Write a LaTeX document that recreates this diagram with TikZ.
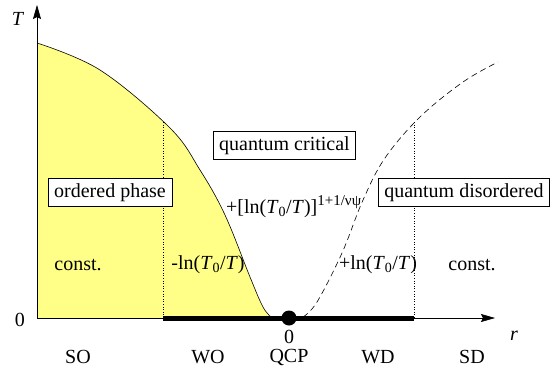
\documentclass[tikz,border=0pt]{standalone}
\usepackage{fontspec}
\setmainfont{Liberation Serif}
\usetikzlibrary{arrows.meta}
\definecolor{phaseyellow}{RGB}{255,255,136}
\tikzset{
  lbl/.style={font=\fontsize{20}{24}\selectfont, inner sep=0pt},
  boxlbl/.style={lbl, draw=black, line width=0.6pt, fill=white, inner xsep=6pt, inner ysep=5pt, text height=14pt, text depth=4.5pt},
  axis/.style={line width=0.6pt, -{Stealth[length=14pt,width=8pt,inset=2pt]}},
  boundary/.style={line width=0.6pt},
  crossover/.style={line width=0.6pt, dash pattern=on 6pt off 4pt},
  divider/.style={line width=0.6pt, dotted},
  thickline/.style={line width=5pt}
}
\newcommand{\lnTT}{ln(\textit{T}\textsubscript{0}/\textit{T})}
\begin{document}
\begin{tikzpicture}[x=1pt,y=-1pt]
\useasboundingbox (0,0) rectangle (552,368);
% coordinates
\coordinate (O) at (37,318);
\coordinate (Ttop) at (37,5);
\coordinate (rend) at (495,318);
\coordinate (L) at (163,318);
\coordinate (R) at (414,318);
\coordinate (Ltop) at (163,122);
\coordinate (Rtop) at (414,122);
\coordinate (qcp) at (289,318);
% ordered region
\fill[phaseyellow] (37,318) -- plot[smooth, tension=0.6] coordinates {(37,43) (100,70) (170,128) (200,170) (225,215) (250,277) (263,307) (272,318)} -- cycle;
\draw[boundary] plot[smooth, tension=0.6] coordinates {(37,43) (100,70) (170,128) (200,170) (225,215) (250,277) (263,307) (272,318)};
% crossover line
\draw[crossover] plot[smooth, tension=0.6] coordinates {(303,317) (317,302) (342,253) (363,200) (385,158) (420,117) (463,82) (498,62)};
% dividers
\draw[divider] (Ltop) -- (L);
\draw[divider] (Rtop) -- (R);
% axes
\draw[line width=0.6pt, dashed] (O) -- (L);
\draw[axis] (O) -- (rend);
\draw[axis] (O) -- (Ttop);
\draw[thickline] (L) -- (R);
\fill (qcp) circle (7.5pt);
% axis labels
\node[lbl] (Tlab) at (18,19) {\textit{T}};
\node[lbl] (rlab) at (514,336) {\textit{r}};
\node[lbl] (zeroT) at (20,320) {0};
\node[lbl] (zeror) at (289,337) {0};
% boxes
\node[boxlbl] (ordered) at (110,192.5) {ordered phase};
\node[boxlbl] (critical) at (284.5,145.5) {quantum critical};
\node[boxlbl] (disordered) at (464,192.5) {quantum disordered};
% region labels
\node[lbl, anchor=base west] (critlaw) at (226,213) {+[\lnTT]\raisebox{8pt}{\fontsize{15}{18}\selectfont 1+1/νψ}};
\node[lbl] (woln) at (208,265) {-\lnTT};
\node[lbl] (wdln) at (378,265) {+\lnTT};
\node[lbl] (constL) at (78,265) {const.};
\node[lbl] (constR) at (472,265) {const.};
% regimes
\node[lbl] (SO) at (78,357) {SO};
\node[lbl] (WO) at (208,357) {WO};
\node[lbl] (QCP) at (289,357) {QCP};
\node[lbl] (WD) at (378,357) {WD};
\node[lbl] (SD) at (472,357) {SD};
\end{tikzpicture}
\end{document}
